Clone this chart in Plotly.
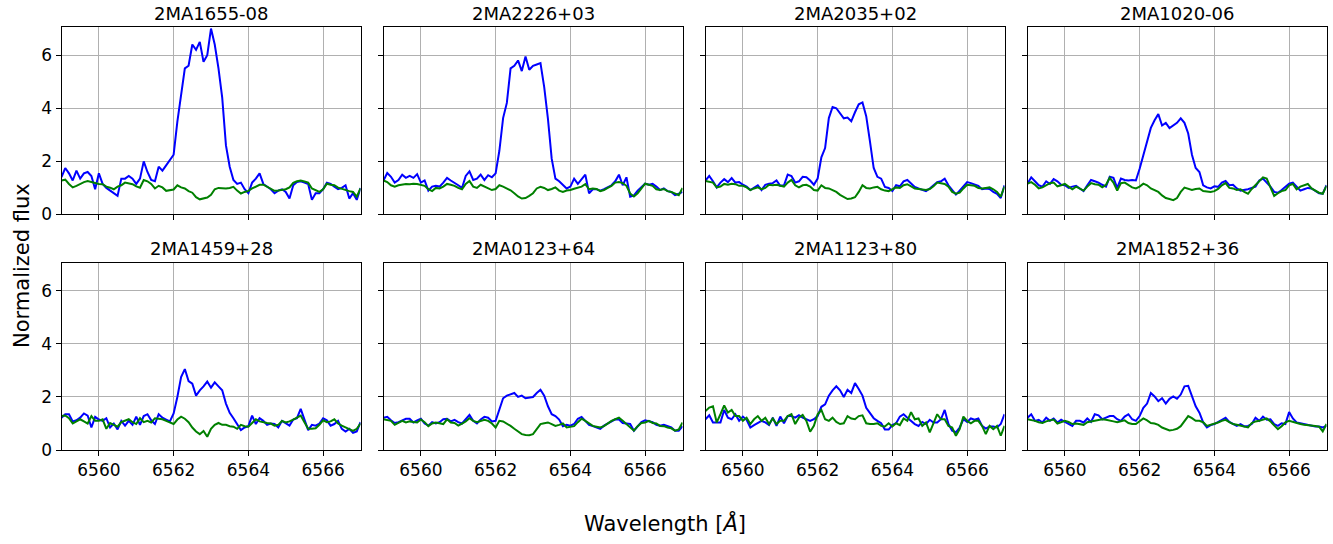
import plotly.graph_objects as go

wavelength = [round(6559 + 0.1 * i, 1) for i in range(81)]

names = ["2MA1655-08", "2MA2226+03", "2MA2035+02", "2MA1020-06",
         "2MA1459+28", "2MA0123+64", "2MA1123+80", "2MA1852+36"]

blue_1 = [1.41,1.75,1.55,1.28,1.65,1.35,1.55,1.60,1.45,0.95,
          1.55,1.15,1.00,0.90,0.80,0.70,1.35,1.35,1.45,1.35,
          1.15,1.35,2.00,1.60,1.30,1.25,1.80,1.65,1.85,2.05,
          2.25,3.50,4.60,5.50,5.60,6.40,6.20,6.50,5.75,6.00,
          7.00,6.40,5.50,4.40,2.60,1.80,1.30,1.15,1.20,0.95,
          0.80,1.20,1.35,1.55,1.15,1.05,0.95,0.80,0.90,0.95,
          0.85,0.60,1.10,1.22,1.25,1.20,1.15,0.55,0.80,0.80,
          0.95,1.20,1.15,1.05,0.95,1.00,1.10,0.60,0.80,0.55,
          1.00]
green_1 = [1.28,1.31,1.15,1.02,1.08,1.16,1.22,1.26,1.22,1.19,
           1.15,1.14,1.05,1.01,0.95,1.05,1.10,1.20,1.18,1.14,
           1.06,1.01,1.30,1.25,1.15,0.98,1.08,1.02,0.89,0.92,
           0.94,1.10,1.02,0.98,0.88,0.82,0.65,0.57,0.60,0.64,
           0.74,0.95,1.00,0.98,0.98,1.00,1.04,0.90,0.79,0.85,
           0.89,0.98,1.04,1.12,1.12,1.04,0.95,0.89,0.90,0.92,
           0.95,1.02,1.19,1.25,1.28,1.24,1.20,0.98,0.90,0.85,
           0.95,1.16,1.12,1.10,1.01,0.96,0.91,0.88,0.85,0.67,
           0.98]

blue_2 = [1.28,1.56,1.42,1.20,1.30,1.50,1.38,1.45,1.38,1.52,
          1.20,1.28,0.90,1.05,1.08,1.05,1.20,1.38,1.28,1.20,
          1.10,1.00,1.45,1.62,1.30,1.35,1.50,1.30,1.48,1.40,
          1.55,2.40,3.63,4.20,5.50,5.60,5.80,5.40,5.95,5.45,
          5.60,5.65,5.70,4.80,3.60,2.10,1.35,1.25,1.10,0.98,
          1.05,1.35,1.15,1.32,1.50,0.80,0.95,0.95,0.90,0.95,
          1.02,1.10,1.25,1.50,1.10,1.40,0.67,0.72,0.90,1.05,
          1.16,1.12,1.15,1.05,0.92,0.98,0.88,0.85,0.73,0.78,
          0.85]
green_2 = [1.28,1.22,1.10,1.05,1.10,1.12,1.15,1.14,1.16,1.15,
           1.12,1.08,0.95,0.88,1.00,0.98,1.05,1.15,1.12,1.08,
           1.00,0.95,1.15,1.26,1.05,1.00,1.12,1.05,0.98,0.92,
           0.96,1.10,1.05,0.98,0.91,0.80,0.68,0.60,0.62,0.70,
           0.80,0.98,1.04,1.00,0.92,0.96,1.02,0.90,0.85,0.90,
           0.92,0.97,1.00,1.05,1.14,0.95,0.98,0.96,0.88,0.92,
           1.00,1.08,1.20,1.22,1.18,1.08,0.79,0.68,0.80,1.00,
           1.16,1.12,1.08,0.95,0.92,0.96,0.88,0.85,0.78,0.73,
           1.00]

blue_3 = [1.28,1.45,1.25,1.02,1.20,1.33,1.22,1.37,1.20,1.22,
          1.12,1.05,0.92,1.02,1.10,0.92,1.12,1.16,1.18,1.28,
          1.08,1.10,1.50,1.45,1.20,1.25,1.42,1.40,1.28,1.12,
          1.35,2.15,2.50,3.63,4.05,4.00,3.80,3.62,3.65,3.51,
          3.85,4.15,4.22,3.70,2.75,1.75,1.42,1.35,1.04,1.00,
          0.88,1.10,1.06,1.25,1.30,1.15,1.04,0.98,0.92,0.88,
          0.98,1.10,1.22,1.25,1.35,1.10,0.92,0.75,0.90,1.05,
          1.22,1.18,1.12,1.08,0.95,0.98,0.96,0.85,0.78,0.62,
          1.10]
green_3 = [1.26,1.22,1.20,1.02,1.05,1.15,1.12,1.16,1.14,1.08,
           1.08,1.02,0.92,0.98,1.02,0.95,1.00,1.12,1.10,1.12,
           1.08,1.05,1.20,1.30,1.10,1.02,1.10,1.12,1.05,0.92,
           0.90,1.10,1.00,0.98,0.92,0.85,0.74,0.65,0.58,0.60,
           0.65,0.85,1.10,1.00,0.98,1.02,1.04,0.95,0.90,0.88,
           0.95,1.02,1.00,1.10,1.14,1.06,0.98,0.96,0.94,0.92,
           0.96,1.06,1.20,1.18,1.15,1.05,0.85,0.78,0.82,0.98,
           1.12,1.10,1.08,1.00,0.98,1.00,1.02,0.95,0.85,0.67,
           1.05]

blue_4 = [1.16,1.40,1.25,1.10,1.05,1.25,1.15,1.33,1.25,1.12,
          1.10,1.00,1.05,1.08,0.98,0.88,1.10,1.30,1.25,1.20,
          1.12,1.05,1.42,1.38,1.00,1.35,1.30,1.28,1.30,1.28,
          1.72,2.20,2.75,3.26,3.55,3.78,3.35,3.45,3.25,3.35,
          3.45,3.62,3.45,3.05,2.25,1.75,1.60,1.10,1.02,0.98,
          1.06,1.04,1.20,1.26,1.10,1.12,0.98,0.90,0.92,0.95,
          1.00,1.05,1.28,1.35,1.20,1.05,0.85,0.82,0.92,1.05,
          1.16,1.20,1.05,0.90,0.95,1.00,0.98,0.88,0.80,0.78,
          1.10]
green_4 = [1.16,1.22,1.12,0.98,1.02,1.10,1.18,1.20,1.06,1.10,
           1.15,1.05,0.95,1.05,0.98,0.90,1.05,1.18,1.14,1.12,
           1.02,1.12,1.38,1.20,0.90,1.18,1.20,1.10,1.02,0.98,
           1.05,1.16,1.10,0.98,0.92,0.85,0.72,0.62,0.58,0.54,
           0.62,0.85,1.01,0.95,0.92,0.96,0.98,0.88,0.86,0.85,
           0.88,0.96,1.10,1.18,1.00,0.98,0.92,0.95,0.85,0.78,
           0.96,1.12,1.28,1.40,1.35,1.05,0.70,0.80,0.88,0.92,
           1.10,1.15,0.95,1.05,1.10,1.15,0.98,0.90,0.82,0.78,
           1.08]

blue_5 = [1.22,1.35,1.35,1.08,1.12,1.22,1.38,1.30,0.85,1.25,
          1.15,1.10,1.20,0.85,1.00,0.78,1.10,0.92,1.10,0.95,
          1.26,0.95,1.28,1.35,1.12,0.98,1.35,1.22,1.15,1.08,
          1.38,2.00,2.75,3.05,2.60,2.50,2.05,2.25,2.40,2.58,
          2.35,2.55,2.40,2.25,1.75,1.40,1.20,0.95,0.75,0.85,
          0.90,1.30,0.98,1.20,1.10,0.95,1.00,0.98,0.85,1.10,
          1.00,0.92,1.15,1.20,1.55,1.15,0.75,0.95,0.92,1.00,
          1.20,1.12,0.92,0.98,1.10,0.80,0.70,0.80,0.65,0.70,
          1.05]
green_5 = [1.28,1.30,1.20,1.00,1.08,1.16,1.08,1.00,1.28,1.10,
           1.10,1.16,0.80,1.02,0.95,0.88,1.05,1.12,1.16,1.05,
           0.98,1.20,1.05,1.10,1.04,1.20,1.18,1.16,1.10,1.04,
           0.98,1.15,1.26,1.18,1.05,0.85,0.70,0.60,0.72,0.50,
           0.80,0.95,1.02,0.95,0.95,0.90,0.88,0.80,0.95,0.90,
           0.88,1.02,1.16,1.08,1.04,1.02,1.00,0.92,0.95,1.10,
           1.04,1.08,1.15,1.22,1.30,1.05,0.80,0.80,0.82,0.95,
           1.12,1.05,1.08,1.16,1.00,0.92,0.85,0.80,0.72,0.80,
           1.00]

blue_6 = [1.22,1.25,1.12,1.02,1.05,1.12,1.18,1.18,1.04,1.12,
          1.18,1.00,0.92,1.05,1.00,1.05,1.16,1.18,1.08,1.14,
          1.05,1.00,1.15,1.32,1.10,1.00,1.15,1.25,1.22,1.08,
          1.10,1.50,1.95,2.05,2.10,2.15,2.00,2.05,1.95,1.98,
          2.00,2.15,2.27,2.05,1.65,1.35,1.28,1.15,0.90,0.95,
          0.92,0.98,1.18,1.25,1.08,0.95,0.90,0.85,0.80,0.92,
          1.00,1.05,1.16,1.15,1.02,1.00,0.98,0.73,0.88,1.05,
          1.12,1.08,1.05,0.95,0.92,0.95,0.90,0.85,0.73,0.73,
          0.90]
green_6 = [1.16,1.12,1.10,0.95,1.04,1.10,1.04,1.08,1.06,1.04,
           1.15,1.05,0.90,1.00,1.04,1.00,0.98,1.16,1.04,1.02,
           0.92,1.00,1.08,1.20,1.10,1.05,1.10,1.14,1.10,1.00,
           0.85,1.10,1.08,1.00,0.91,0.80,0.70,0.60,0.57,0.56,
           0.60,0.78,0.98,1.01,1.04,0.98,0.91,0.95,1.00,0.85,
           0.88,0.90,1.05,1.18,1.10,1.00,0.91,0.88,0.85,0.90,
           1.00,1.10,1.16,1.22,1.10,0.98,0.88,0.73,0.90,1.02,
           1.04,1.10,1.02,1.00,0.91,0.90,0.85,0.82,0.73,0.78,
           1.04]

blue_7 = [1.16,1.31,1.04,1.04,1.04,1.51,1.22,1.16,1.35,1.10,
          1.26,1.14,0.85,0.94,1.01,1.10,1.04,0.94,1.22,0.91,
          1.26,1.01,1.28,1.28,1.22,1.31,1.22,1.16,1.10,1.16,
          1.28,1.63,1.72,2.05,2.25,2.40,2.25,2.00,2.27,2.15,
          2.52,2.30,2.05,1.59,1.41,1.20,1.10,1.01,0.77,0.77,
          0.94,1.01,1.26,1.35,1.22,1.10,0.98,0.91,1.06,0.98,
          1.14,1.04,1.04,1.16,1.51,0.98,0.73,0.67,0.85,1.16,
          1.06,1.19,1.14,1.19,0.91,0.81,0.89,0.89,0.85,0.98,
          1.35]
green_7 = [1.47,1.60,1.65,1.04,1.35,1.68,1.41,1.51,1.28,1.28,
           1.10,1.22,0.98,1.16,1.28,1.10,1.22,0.98,1.19,0.98,
           1.10,1.10,1.28,1.35,0.98,1.22,1.32,1.10,0.69,0.91,
           1.35,1.51,1.16,1.10,1.22,1.06,0.98,1.01,1.28,1.19,
           1.16,1.28,1.31,1.01,0.98,0.98,1.01,0.91,0.89,1.01,
           0.89,1.01,0.94,1.19,1.10,1.43,1.16,1.19,0.91,1.04,
           0.67,1.04,1.35,1.16,1.16,0.91,0.85,0.54,0.79,1.26,
           1.10,1.01,1.10,1.10,0.91,0.60,0.91,0.79,0.91,0.54,
           0.91]

blue_8 = [1.22,1.35,1.10,1.14,1.04,1.22,1.10,1.19,1.04,1.14,
          1.06,0.98,0.91,1.10,1.10,1.04,1.19,1.06,1.35,1.31,
          1.16,1.22,1.28,1.28,1.16,1.10,1.26,1.35,1.16,1.10,
          1.28,1.59,1.75,2.15,2.02,1.84,1.95,1.75,1.93,2.02,
          1.93,2.09,2.40,2.42,2.02,1.65,1.41,1.04,0.85,0.94,
          0.98,1.06,1.14,1.22,1.06,0.98,0.91,0.98,0.89,0.91,
          0.98,1.22,1.10,1.26,1.14,1.16,0.98,0.91,1.01,0.98,
          1.43,1.19,1.04,1.01,0.98,0.94,0.91,0.89,0.89,0.85,
          0.91]
green_8 = [1.16,1.14,1.10,1.05,1.02,1.08,1.12,1.15,1.00,1.05,
           1.10,1.06,0.98,1.00,0.98,0.95,1.05,1.08,1.10,1.12,
           1.16,1.14,1.10,1.08,1.05,1.10,1.12,1.02,0.98,0.98,
           1.08,1.19,1.12,1.02,1.00,0.95,0.85,0.80,0.74,0.76,
           0.80,0.90,1.10,1.28,1.20,1.10,1.10,1.05,0.91,0.95,
           0.98,1.04,1.10,1.14,1.05,0.98,0.95,0.91,0.88,0.85,
           1.02,1.08,1.10,1.15,1.19,1.08,0.95,0.79,0.90,1.04,
           1.10,1.05,1.00,0.98,0.95,0.94,0.92,0.91,0.88,0.70,
           0.98]

blue_series = [blue_1, blue_2, blue_3, blue_4, blue_5, blue_6, blue_7, blue_8]
green_series = [green_1, green_2, green_3, green_4, green_5, green_6, green_7, green_8]

x_ticks = [6560, 6562, 6564, 6566]
y_ticks = [0, 2, 4, 6]

W, H = 1333, 544
FONT = "DejaVu Sans"
col_px = [(61.5, 360.5), (383.5, 682.5), (705.5, 1004.5), (1027.5, 1326.5)]
row_px = [(27.5, 218.5), (267.5, 458.5)]

fig = go.Figure()
layout = dict(
    width=W, height=H, margin=dict(l=0, r=0, t=0, b=0),
    paper_bgcolor="white", plot_bgcolor="white", showlegend=False,
    font=dict(family=FONT, color="black", size=17),
)
annotations = []
for i in range(8):
    r, c = divmod(i, 4)
    n = i + 1
    xs = "x" if n == 1 else f"x{n}"
    ys = "y" if n == 1 else f"y{n}"
    fig.add_trace(go.Scatter(x=wavelength, y=blue_series[i], mode="lines",
                             line=dict(color="#0000ff", width=2), xaxis=xs, yaxis=ys))
    fig.add_trace(go.Scatter(x=wavelength, y=green_series[i], mode="lines",
                             line=dict(color="#008000", width=2), xaxis=xs, yaxis=ys))
    x0, x1 = col_px[c]
    y0, y1 = row_px[r]
    common = dict(showgrid=True, gridcolor="#b0b0b0", gridwidth=1, zeroline=False,
                  showline=True, mirror=True, linecolor="black", linewidth=1,
                  ticks="outside", ticklen=5, tickwidth=1, tickcolor="black",
                  tickfont=dict(family=FONT, size=17, color="black"))
    layout["xaxis" if n == 1 else f"xaxis{n}"] = dict(
        common, domain=[x0 / W, x1 / W], range=[6559, 6567], tickvals=x_ticks,
        anchor=ys, showticklabels=(r == 1))
    layout["yaxis" if n == 1 else f"yaxis{n}"] = dict(
        common, domain=[1 - y1 / H, 1 - y0 / H], range=[0, 7.06], tickvals=y_ticks,
        anchor=xs, showticklabels=(c == 0))
    annotations.append(dict(text=names[i], x=(x0 + x1) / 2 / W, y=1 - (y0 - 14) / H,
                            xref="paper", yref="paper", showarrow=False,
                            xanchor="center", yanchor="middle",
                            font=dict(family=FONT, size=18, color="black")))

annotations.append(dict(text="Wavelength [<i>Å</i>]", x=665 / W, y=1 - 533 / H,
                        xref="paper", yref="paper", showarrow=False,
                        xanchor="center", yanchor="middle",
                        font=dict(family=FONT, size=21, color="black")))
annotations.append(dict(text="Normalized flux", x=22 / W, y=1 - 271 / H,
                        xref="paper", yref="paper", showarrow=False, textangle=-90,
                        xanchor="center", yanchor="middle",
                        font=dict(family=FONT, size=21, color="black")))
layout["annotations"] = annotations
fig.update_layout(**layout)
fig.write_html("out.html")
